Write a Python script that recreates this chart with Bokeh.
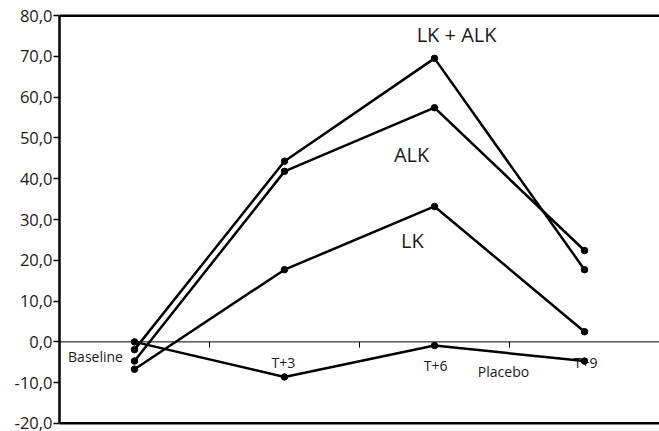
from bokeh.plotting import figure
from bokeh.models import (Range1d, LinearAxis, FixedTicker, Span, Label,
                          CustomJSTickFormatter)
from bokeh.embed import file_html
from bokeh.resources import INLINE

# ---- data ----
categories = ["Baseline", "T+3", "T+6", "T+9"]
lk_alk = [-1.9, 44.3, 69.5, 17.7]
alk = [-4.7, 41.8, 57.4, 22.4]
lk = [-6.7, 17.7, 33.2, 2.5]
placebo = [0.0, -8.6, -0.9, -4.7]
y_ticks = [-20, -10, 0, 10, 20, 30, 40, 50, 60, 70, 80]

FONT = "Open Sans"
xs = [i + 0.5 for i in range(len(categories))]

p = figure(frame_width=600, frame_height=410,
           x_range=Range1d(0, len(categories)), y_range=Range1d(-20.25, 80.25),
           output_backend="svg", toolbar_location=None,
           x_axis_location=None, y_axis_location=None,
           min_border_left=59, min_border_right=0,
           min_border_top=14, min_border_bottom=7)
p.grid.visible = False
p.outline_line_color = None
p.background_fill_color = "white"
p.border_fill_color = "white"

# left axis
yax = LinearAxis(ticker=FixedTicker(ticks=y_ticks),
                 formatter=CustomJSTickFormatter(code="return tick.toFixed(1).replace('.', ',');"))
yax.axis_line_width = 2.5
yax.axis_line_color = "black"
yax.major_tick_out = 6
yax.major_tick_in = 0
yax.major_tick_line_width = 1.5
yax.major_tick_line_color = "black"
yax.minor_tick_line_color = None
yax.major_label_standoff = 1
yax.major_label_text_font = FONT
yax.major_label_text_font_size = "16.5px"
yax.major_label_text_color = "#1a1a1a"
p.add_layout(yax, "left")
yax.bounds = (y_ticks[0], y_ticks[-1])

# top and bottom frame lines, zero line
p.add_layout(Span(location=y_ticks[-1], dimension="width", line_color="black", line_width=3))
p.add_layout(Span(location=y_ticks[0], dimension="width", line_color="black", line_width=3))
p.add_layout(Span(location=0, dimension="width", line_color="black", line_width=1))

# category boundary ticks on the zero line
bounds = list(range(1, len(categories)))
p.segment(x0=bounds, y0=[0] * len(bounds), x1=bounds, y1=[-1.4] * len(bounds),
          line_color="black", line_width=1)

# category labels (manually placed as in the original)
cat_pos = {"Baseline": (0.24, -3.6), "T+3": (1.493, -5.0),
           "T+6": (2.507, -5.8), "T+9": (3.507, -5.0)}
for c in categories:
    x, y = cat_pos[c]
    p.add_layout(Label(x=x, y=y, text=c, text_align="center", text_baseline="middle",
                       text_font=FONT, text_font_size="14px", text_color="#1a1a1a",
                       level="underlay"))
p.add_layout(Label(x=2.96, y=-7.3, text="Placebo", text_align="center",
                   text_baseline="middle", text_font=FONT, text_font_size="14px",
                   text_color="#1a1a1a", level="underlay"))

# series
for vals in (lk_alk, alk, lk, placebo):
    p.line(xs, vals, line_color="black", line_width=2.5)
    p.scatter(xs, vals, size=6.5, fill_color="black", line_color="black")

# series labels
for txt, x, y in (("LK + ALK", 2.647, 75.4), ("ALK", 2.347, 45.9), ("LK", 2.353, 24.9)):
    p.add_layout(Label(x=x, y=y, text=txt, text_align="center", text_baseline="middle",
                       text_font=FONT, text_font_size="20px", text_color="#1a1a1a"))

open("out.html", "w").write(file_html(p, INLINE))
